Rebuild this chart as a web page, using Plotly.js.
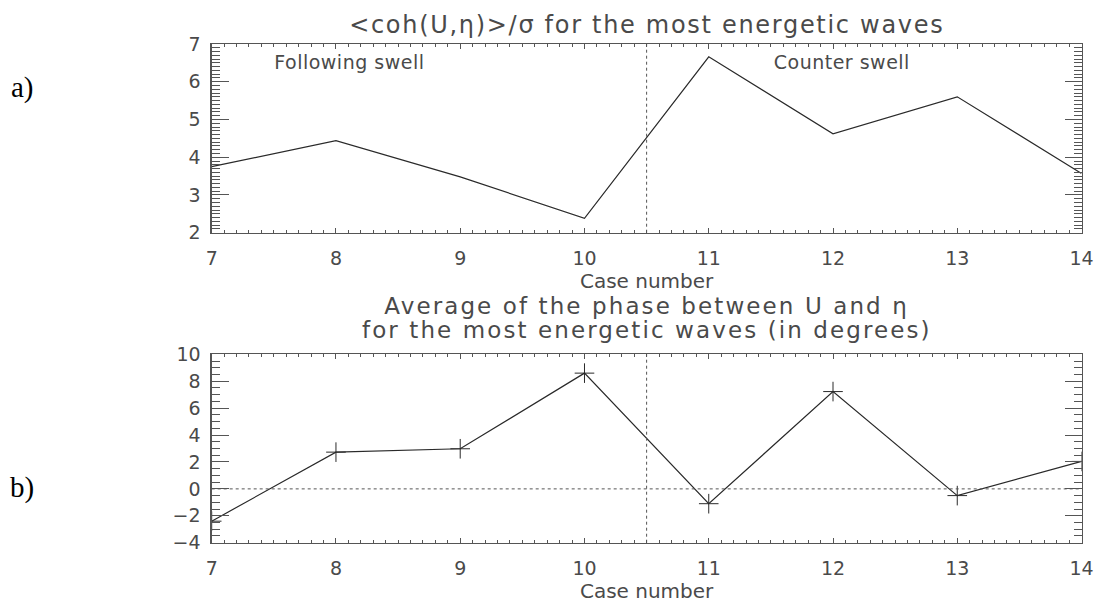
<!DOCTYPE html>
<html>
<head>
<meta charset="utf-8">
<script src="https://cdn.plot.ly/plotly-3.0.1.min.js"></script>
<style>
html, body { margin: 0; padding: 0; background: #fff; }
#chart { width: 1098px; height: 610px; }
.annotation[data-index="0"] text { letter-spacing: 1.7px; }
.annotation[data-index="1"] text { letter-spacing: 2.1px; }
.annotation[data-index="2"] text { letter-spacing: 2.1px; }
.annotation[data-index="3"] text { letter-spacing: 0.5px; }
.annotation[data-index="4"] text { letter-spacing: 0.5px; }
</style>
</head>
<body>
<div id="chart"></div>
<script>
// ---- data ----
const cases = [7, 8, 9, 10, 11, 12, 13, 14];
const cohRatio = [3.75, 4.44, 3.48, 2.38, 6.66, 4.62, 5.60, 3.57];
const phaseDeg = [-2.4, 2.73, 2.98, 8.6, -1.1, 7.23, -0.5, 2.04];
const xTickVals = [7, 8, 9, 10, 11, 12, 13, 14];
const yTickValsTop = [2, 3, 4, 5, 6, 7];
const yTickValsBottom = [-4, -2, 0, 2, 4, 6, 8, 10];
const separatorCase = 10.5;
const titleTop = '<coh(U,\u03B7)>/\u03C3 for the most energetic waves';
const titleBottom1 = 'Average of the phase between U and \u03B7';
const titleBottom2 = 'for the most energetic waves (in degrees)';
const xTitle = 'Case number';
const leftText = 'Following swell';
const rightText = 'Counter swell';

const FONT = 'DejaVu Sans, Liberation Sans, sans-serif';
const TXT = '#4a4a4a';
const AX = '#555';
const LINE = '#2a2a2a';
const XD = [0.1928, 0.985];

function xAxis(anchor) {
  return {
    domain: XD, range: [7, 14], anchor: anchor,
    tickmode: 'array', tickvals: xTickVals,
    ticks: 'inside', ticklen: 5, tickwidth: 1, tickcolor: AX,
    minor: { dtick: 0.1, ticks: 'inside', ticklen: 3, tickwidth: 1, tickcolor: AX, showgrid: false },
    mirror: 'allticks', showline: true, linecolor: AX, linewidth: 1.3,
    showgrid: false, zeroline: false,
    ticklabelstandoff: 8,
    tickfont: { family: FONT, size: 19, color: TXT },
    title: { text: xTitle, font: { family: FONT, size: 20, color: TXT }, standoff: 4 },
    automargin: false
  };
}
function yAxis(anchor, domain, range, vals, minorStep) {
  return {
    domain: domain, range: range, anchor: anchor,
    tickmode: 'array', tickvals: vals,
    ticks: 'inside', ticklen: 17, tickwidth: 1, tickcolor: AX,
    minor: { dtick: minorStep, ticks: 'inside', ticklen: 8, tickwidth: 1, tickcolor: AX, showgrid: false },
    mirror: 'allticks', showline: true, linecolor: AX, linewidth: 1.3,
    showgrid: false, zeroline: false,
    ticklabelstandoff: 6,
    tickfont: { family: FONT, size: 19, color: TXT },
    automargin: false
  };
}

const traces = [
  { x: cases, y: cohRatio, type: 'scatter', mode: 'lines', xaxis: 'x', yaxis: 'y',
    line: { color: LINE, width: 1.2 }, showlegend: false, hoverinfo: 'x+y' },
  { x: cases, y: phaseDeg, type: 'scatter', mode: 'lines+markers', xaxis: 'x2', yaxis: 'y2',
    line: { color: LINE, width: 1.2 },
    marker: { symbol: 'cross-thin', size: 14, line: { color: LINE, width: 1 } },
    showlegend: false, hoverinfo: 'x+y' }
];

const layout = {
  width: 1098, height: 610,
  margin: { l: 0, r: 0, t: 0, b: 0 },
  paper_bgcolor: '#fff', plot_bgcolor: '#fff',
  showlegend: false,
  xaxis: xAxis('y'),
  yaxis: yAxis('x', [0.6185, 0.9279], [2, 7], yTickValsTop, 0.1),
  xaxis2: xAxis('y2'),
  yaxis2: yAxis('x2', [0.1103, 0.4192], [-4, 10], yTickValsBottom, 0.5),
  shapes: [
    { type: 'line', xref: 'x', yref: 'y domain', x0: separatorCase, x1: separatorCase, y0: 0, y1: 1,
      line: { color: AX, width: 1, dash: 'dot' } },
    { type: 'line', xref: 'x2', yref: 'y2 domain', x0: separatorCase, x1: separatorCase, y0: 0, y1: 1,
      line: { color: AX, width: 1, dash: 'dot' } },
    { type: 'line', xref: 'x2 domain', yref: 'y2', x0: 0, x1: 1, y0: 0, y1: 0,
      line: { color: AX, width: 1, dash: 'dot' } }
  ],
  annotations: [
    { text: titleTop, xref: 'paper', yref: 'paper', x: 0.589, y: 1 - 25 / 610,
      xanchor: 'center', yanchor: 'middle', showarrow: false,
      font: { family: FONT, size: 24, color: TXT } },
    { text: titleBottom1, xref: 'paper', yref: 'paper', x: 0.589, y: 1 - 306 / 610,
      xanchor: 'center', yanchor: 'middle', showarrow: false,
      font: { family: FONT, size: 23, color: TXT } },
    { text: titleBottom2, xref: 'paper', yref: 'paper', x: 0.589, y: 1 - 330 / 610,
      xanchor: 'center', yanchor: 'middle', showarrow: false,
      font: { family: FONT, size: 23, color: TXT } },
    { text: leftText, xref: 'x', yref: 'y', x: 8.11, y: 6.53,
      xanchor: 'center', yanchor: 'middle', showarrow: false,
      font: { family: FONT, size: 19, color: TXT } },
    { text: rightText, xref: 'x', yref: 'y', x: 12.07, y: 6.53,
      xanchor: 'center', yanchor: 'middle', showarrow: false,
      font: { family: FONT, size: 19, color: TXT } },
    { text: 'a)', xref: 'paper', yref: 'paper', x: 22 / 1098, y: 1 - 88 / 610,
      xanchor: 'center', yanchor: 'middle', showarrow: false,
      font: { family: 'Liberation Serif, Times New Roman, serif', size: 29, color: '#000' } },
    { text: 'b)', xref: 'paper', yref: 'paper', x: 22 / 1098, y: 1 - 487 / 610,
      xanchor: 'center', yanchor: 'middle', showarrow: false,
      font: { family: 'Liberation Serif, Times New Roman, serif', size: 29, color: '#000' } }
  ]
};

Plotly.newPlot('chart', traces, layout, { displayModeBar: false, staticPlot: true });
</script>
</body>
</html>
